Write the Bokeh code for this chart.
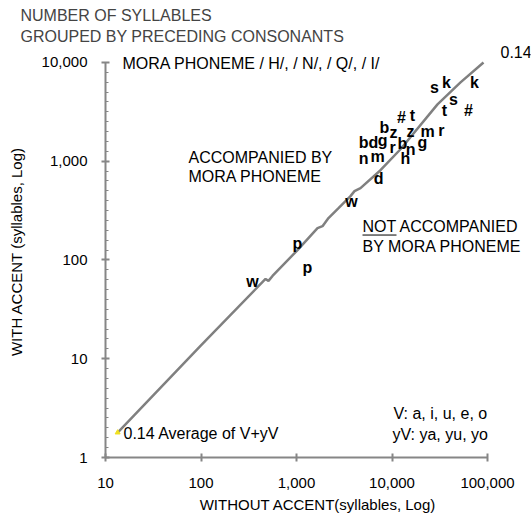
from bokeh.plotting import figure
from bokeh.models import ColumnDataSource, Label, FixedTicker, NumeralTickFormatter, Title
from bokeh.core.properties import value
from bokeh.embed import file_html
from bokeh.resources import INLINE

# ---- data ----
# cumulative line (without accent vs with accent)
line_wo = [13.4, 98.8, 474, 509, 561, 1025, 1660, 1873, 2163, 2754, 3032, 3676, 4049, 4680, 7578, 12270, 29950, 52160, 90800]
line_wi = [1.79, 13.5, 64.3, 61.4, 68.9, 126, 210, 220, 266, 335, 368, 443, 498, 534, 811, 1322, 3767, 6280, 10000]

# consonant labels
cons = ["s", "k", "k", "s", "t", "#", "#", "t", "b", "z", "z", "m", "r",
        "b", "d", "g", "r", "b", "n", "g", "n", "m", "h", "d", "w", "p", "p", "w"]
cons_wo = [27860, 37220, 73100, 44060, 35480, 63240, 12570, 16400, 8340, 10370, 15630, 23550, 32960,
           5035, 6400, 7960, 10120, 12880, 15630, 20850, 5035, 7050, 13840, 7230, 3767, 1024, 1303, 346]
cons_wi = [5590, 6280, 6280, 4230, 3275, 3275, 2780, 2917, 2205, 1963, 2010, 2010, 2056,
           1556, 1556, 1630, 1385, 1520, 1322, 1556, 1072, 1124, 1072, 673, 394, 148, 83, 61]

x_ticks = [10, 100, 1000, 10000, 100000]
y_ticks = [1, 10, 100, 1000, 10000]

FONT = "Liberation Sans"
GRAY = "#868686"

# frame geometry in page pixels: axes span x 105..487 (10..100000), y 458..62 (1..10000)
FL, FR, FT, FB = 105, 530, 45, 458
W, H = 532, 515


def X(px):
    return 10 ** (1 + (px - 105) / 95.5)


def Y(py):
    return 10 ** ((458 - py) / 99)


p = figure(width=W, height=H, x_axis_type="log", y_axis_type="log",
           x_range=(10, X(FR)), y_range=(1, Y(FT)), title=None,
           output_backend="svg", toolbar_location=None,
           min_border_left=FL, min_border_right=W - FR, min_border_top=FT, min_border_bottom=H - FB)
p.outline_line_color = None
p.xgrid.visible = False
p.ygrid.visible = False
p.background_fill_color = "white"
p.border_fill_color = "white"

# axes
p.xaxis.ticker = FixedTicker(ticks=x_ticks, minor_ticks=[])
p.yaxis.ticker = FixedTicker(ticks=y_ticks,
                             minor_ticks=[10 ** (k + j / 10) for k in range(4) for j in range(1, 10)])
p.xaxis.bounds = (x_ticks[0], x_ticks[-1])
p.yaxis.bounds = (y_ticks[0], y_ticks[-1])
for ax in (p.xaxis[0], p.yaxis[0]):
    ax.formatter = NumeralTickFormatter(format="0,0")
    ax.axis_line_color = GRAY
    ax.axis_line_width = 2
    ax.major_tick_line_color = GRAY
    ax.major_tick_line_width = 2
    ax.minor_tick_line_color = GRAY
    ax.major_label_text_font = FONT
    ax.major_label_text_font_size = "15px"
    ax.major_label_text_color = "black"
    ax.axis_label_text_font = FONT
    ax.axis_label_text_font_size = "15px"
    ax.axis_label_text_font_style = "normal"
    ax.axis_label_text_color = "black"
p.xaxis.major_tick_in = 4
p.xaxis.major_tick_out = 4
p.xaxis.major_label_standoff = 16
p.xaxis.axis_label = "WITHOUT ACCENT(syllables, Log)"
p.xaxis.axis_label_standoff = 5
p.yaxis.major_tick_in = 4
p.yaxis.major_tick_out = 4
p.yaxis.minor_tick_in = 3
p.yaxis.minor_tick_out = 0
p.yaxis.major_label_standoff = 14
p.yaxis.axis_label = "WITH ACCENT (syllables, Log)"
p.yaxis.axis_label_standoff = 14

# titles
for txt in ["GROUPED BY PRECEDING CONSONANTS", "NUMBER OF SYLLABLES"]:
    p.add_layout(Title(text=txt, align="left", offset=20 - FL, text_font=FONT,
                       text_font_size="16px", text_font_style="normal", standoff=2), "above")

# line
src_line = ColumnDataSource(dict(x=line_wo, y=line_wi))
p.line("x", "y", source=src_line, line_color="#808080", line_width=2.5)
p.scatter([line_wo[0]], [line_wi[0]], marker="triangle", size=5, color="#f0e020")

# consonant letters
src_c = ColumnDataSource(dict(x=cons_wo, y=cons_wi, t=cons))
p.text("x", "y", text="t", source=src_c, text_font=value(FONT), text_font_style="bold",
       text_font_size="16px", text_align="center", text_baseline="middle", text_color="black")


def add(txt, px, py, size="16px", align="left"):
    p.add_layout(Label(x=X(px), y=Y(py), text=txt, text_font=FONT, text_font_size=size,
                       text_align=align, text_baseline="middle", text_color="black"))


add("MORA PHONEME / H/, / N/, / Q/, / I/", 122, 63)
add("ACCOMPANIED BY", 188, 157)
add("MORA  PHONEME", 188, 176)
add("NOT ACCOMPANIED", 362, 226)
add("BY MORA PHONEME", 362, 246)
add("V: a, i, u, e, o", 393, 414)
add("yV: ya, yu, yo", 392, 435)
add("0.14 Average of V+yV", 123, 434)
add("0.14", 500, 52)

# underline of NOT
p.line([X(362), X(396)], [Y(235), Y(235)], line_color="black", line_width=1)

open("out.html", "w").write(file_html(p, INLINE))
